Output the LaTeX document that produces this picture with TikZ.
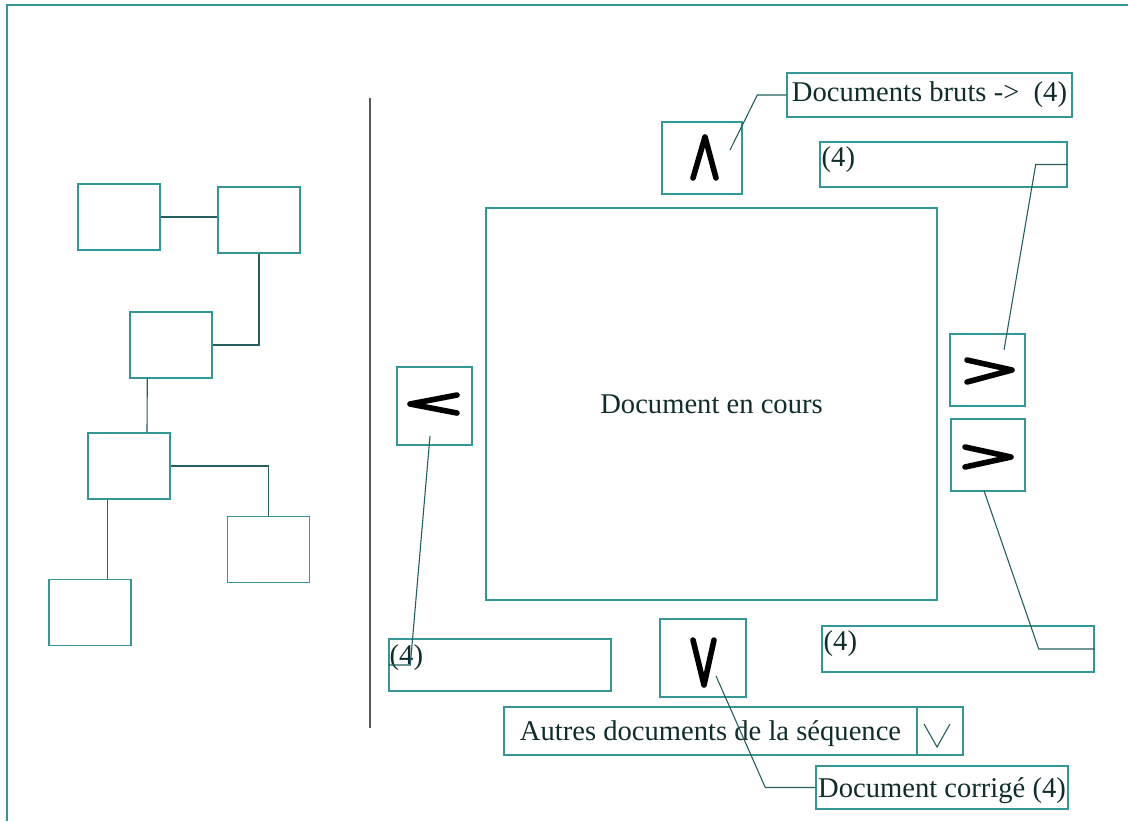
\documentclass[tikz,border=0pt]{standalone}
\usepackage{fontspec}
\setmainfont{Liberation Serif}
\usetikzlibrary{calc}

\definecolor{frameteal}{RGB}{52,150,150}
\definecolor{wireteal}{RGB}{36,96,96}
\definecolor{inkteal}{RGB}{16,44,44}

\begin{document}
\begin{tikzpicture}[
  x=0.5pt, y=-0.5pt,
  every node/.style={font=\fontsize{14.3}{17}\selectfont,text=inkteal},
  box/.style 2 args={draw=frameteal,line width=0.7pt,inner sep=0pt,minimum width=#1,minimum height=#2},
  treebox/.style={box={41pt}{33pt}},
  note/.style={label={[anchor=north west,inner sep=1pt,yshift=-1.5pt]north west:(4)}},
  wire/.style={draw=wireteal,line width=0.55pt},
  chevron/.style={line width=2.8pt,line cap=round,line join=round,black}
]
  \useasboundingbox (0,0) rectangle (1128,821);
  \draw[frameteal,line width=1pt] (1128,5) -- (7,5) -- (7,821);

  % arbre des documents
  \node[treebox] (tree1) at (119,217) {};
  \node[treebox] (tree2) at (259,220) {};
  \node[treebox] (tree3) at (171,345) {};
  \node[treebox] (tree4) at (129,466) {};
  \node[treebox] (tree5) at (268.5,549.5) {};
  \node[treebox] (tree6) at (90,612.5) {};
  \coordinate (t4foot) at ($(tree4.south west)+(20,0)$);
  \draw[wire] (tree1.east) -- (tree1.east -| tree2.west);
  \draw[wire] (tree2.south) |- (tree3.east);
  \draw[wire] ($(tree3.south west)+(18,0)$) -- ($(tree4.north)+(18,0)$);
  \draw[wire] (tree4.east) -| (tree5.north);
  \draw[wire] (t4foot) -- (t4foot |- tree6.north);

  \draw[wire,draw=black!65] (370,98) -- (370,728);

  % zone de travail
  \node[box={225.5pt}{196pt}] (cours) at (711.5,404) {Document en cours};
  \node[box={40pt}{36pt}] (haut) at (702,158) {};
  \node[box={43pt}{39pt}] (bas) at (703,658) {};
  \node[box={37.5pt}{39pt}] (gauche) at (434.5,406) {};
  \node[box={37.5pt}{36pt}] (droite1) at (987.5,370) {};
  \node[box={37pt}{36pt}] (droite2) at (988,455) {};

  \node[box={142.5pt}{22pt}] (bruts) at (929.5,95) {Documents bruts ->~ (4)};
  \node[box={123.5pt}{22.5pt},note] (noteHaut) at (943.5,164.5) {};
  \node[box={136pt}{23pt},note] (noteDroite) at (958,649) {};
  \node[box={111pt}{26pt},label={[anchor=west,inner sep=0.5pt,yshift=3.5pt]west:(4)}] (noteGauche) at (500,665) {};
  \node[box={206.5pt}{24pt},text depth=0pt] (sequence) at (710.5,731) {Autres documents de la séquence};
  \node[box={23pt}{24pt}] (seqmenu) at (940,731) {};
  \node[box={126pt}{21.5pt},text depth=0pt] (corrige) at (942,787.5) {Document corrigé (4)};

  % fleches de navigation
  \draw[chevron,shift={(haut.center)}] (-9,20) -- (3,-21) -- (14,20);
  \draw[chevron,shift={(bas.center)}] (-10,-18) -- (1,27) -- (11,-18);
  \draw[chevron,shift={(gauche.center)}] (22.5,-11) -- (-24.5,-2) -- (22.5,7);
  \draw[chevron,shift={(droite1.center)}] (-20.5,-10) -- (24.5,0) -- (-20.5,12);
  \draw[chevron,shift={(droite2.center)}] (-23,-8) -- (23,2) -- (-23,12);
  \draw[wire,shift={(seqmenu.center)}] (-16,-7) -- (-3,16) -- (10,-7);

  \draw[wire] ($(haut.center)+(28,-8)$) -- ($(bruts.west)+(-29,0)$) -- (bruts.west);
  \draw[wire] (noteHaut.east) -- ++(-32,0) -- ($(droite1.center)+(16.5,-20)$);
  \draw[wire] ($(droite2.south)+(-4,-1)$) -- ($(noteDroite.east)+(-56,0)$) -- (noteDroite.east);
  \draw[wire] ($(gauche.center)+(-4.5,30)$) -- ($(noteGauche.west)+(22,0)$) -- (noteGauche.west);
  \draw[wire] ($(bas.center)+(13,18)$) -- ($(corrige.west)+(-50,0)$) -- (corrige.west);
\end{tikzpicture}
\end{document}
